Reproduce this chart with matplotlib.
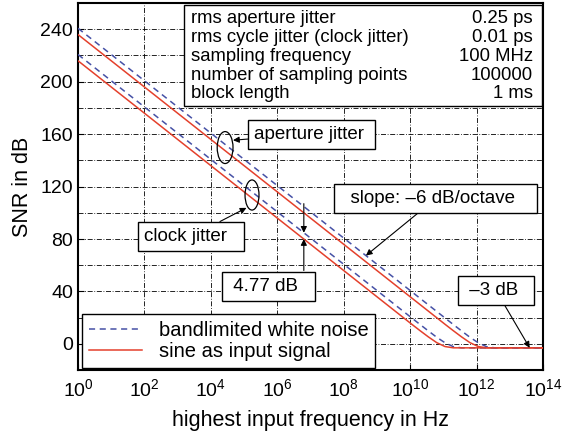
import numpy as np
import matplotlib
matplotlib.use("Agg")
import matplotlib.pyplot as plt
from matplotlib.patches import Ellipse, Rectangle

plt.rcParams['font.family'] = ['Liberation Sans', 'DejaVu Sans']
plt.rcParams['mathtext.fontset'] = 'custom'
plt.rcParams['mathtext.rm'] = 'Liberation Sans'
plt.rcParams['mathtext.it'] = 'Liberation Sans:italic'


# -----------------------------
# SNR curves (log10 of frequency, SNR in dB)
# -----------------------------
fexp_aperture = [0, 10.8, 11.05, 11.3, 11.55, 11.8, 12.05, 12.3, 12.55, 12.8, 14]
fexp_clock = [0, 9.8, 10.05, 10.3, 10.55, 10.8, 11.05, 11.3, 11.55, 11.8, 14]

snr_aperture_sine = [236.0, 20.0, 15.0, 10.1, 5.35, 1.0, -2.0, -2.98, -3.0, -3.0, -3.0]
snr_aperture_noise = [240.77, 24.77, 19.8, 14.8, 9.9, 5.1, 0.9, -2.1, -2.99, -3.0, -3.0]
snr_clock_sine = [216.0, 20.0, 15.0, 10.1, 5.35, 1.0, -2.0, -2.98, -3.0, -3.0, -3.0]
snr_clock_noise = [220.77, 24.77, 19.8, 14.8, 9.9, 5.1, 0.9, -2.1, -2.99, -3.0, -3.0]

xtick_exp = [0, 2, 4, 6, 8, 10, 12, 14]
yticks = [0, 40, 80, 120, 160, 200, 240]

info_names = ["rms aperture jitter", "rms cycle jitter (clock jitter)",
              "sampling frequency", "number of sampling points", "block length"]
info_values = ["0.25 ps", "0.01 ps", "100 MHz", "100000", "1 ms"]

red = "#e4402c"
blue = "#4651a6"


# -----------------------------
# Figure and axes
# -----------------------------
fig = plt.figure(figsize=(5.65, 4.37), dpi=100)
ax = fig.add_axes([0.138, 0.153, 0.823, 0.840])

f_ap = 10.0 ** np.array(fexp_aperture)
f_cl = 10.0 ** np.array(fexp_clock)

ax.plot(f_ap, snr_aperture_noise, color=blue, lw=1.1, ls=(0, (4, 3)), zorder=3,
        label="bandlimited white noise")
ax.plot(f_ap, snr_aperture_sine, color=red, lw=1.1, zorder=3,
        label="sine as input signal")
ax.plot(f_cl, snr_clock_noise, color=blue, lw=1.1, ls=(0, (4, 3)), zorder=3)
ax.plot(f_cl, snr_clock_sine, color=red, lw=1.1, zorder=3)

ax.set_xscale("log")
ax.set_xlim(1, 1e14)
ax.set_ylim(-20, 260)
ax.set_xticks([10.0 ** e for e in xtick_exp])
ax.set_xticklabels([r"$10^{%d}$" % e for e in xtick_exp])
ax.xaxis.set_minor_locator(plt.NullLocator())
ax.set_yticks(yticks)
ax.set_yticks(np.arange(-20, 261, 20), minor=True)
ax.tick_params(axis="both", which="major", direction="in", length=4, labelsize=14)
ax.tick_params(axis="x", which="major", pad=6)
ax.tick_params(axis="y", which="minor", length=0)
ax.grid(True, which="both", color="k", lw=0.6, ls=(0, (6, 2, 1, 2)), zorder=0)
ax.set_axisbelow(True)
for s in ax.spines.values():
    s.set_linewidth(1.5)

ax.set_xlabel("highest input frequency in Hz", fontsize=15.5, labelpad=7)
ax.set_ylabel("SNR in dB", fontsize=15.5, labelpad=5)


# -----------------------------
# Parameter table
# -----------------------------
ax.add_patch(Rectangle((0.228, 0.719), 0.770, 0.276, transform=ax.transAxes,
                       facecolor="white", edgecolor="k", lw=1.0, zorder=5))
rows_y = [0.958, 0.906, 0.855, 0.803, 0.753]
for name, val, yy in zip(info_names, info_values, rows_y):
    ax.text(0.243, yy, name, transform=ax.transAxes, fontsize=13.3,
            ha="left", va="center", zorder=6)
    ax.text(0.978, yy, val, transform=ax.transAxes, fontsize=13.3,
            ha="right", va="center", zorder=6)


# -----------------------------
# Ellipses marking the curve pairs
# -----------------------------
def to_axes(x, y):
    return ax.transAxes.inverted().transform(ax.transData.transform((x, y)))

ap_x = 4.43
ap_y = 0.5 * (np.interp(ap_x, fexp_aperture, snr_aperture_sine) +
              np.interp(ap_x, fexp_aperture, snr_aperture_noise))
cl_x = 5.24
cl_y = 0.5 * (np.interp(cl_x, fexp_clock, snr_clock_sine) +
              np.interp(cl_x, fexp_clock, snr_clock_noise))

ap_c = to_axes(10 ** ap_x, ap_y)
cl_c = to_axes(10 ** cl_x, cl_y)
ax.add_patch(Ellipse(ap_c, 0.034, 0.087, transform=ax.transAxes,
                     fill=False, edgecolor="k", lw=0.9, zorder=4))
ax.add_patch(Ellipse(cl_c, 0.030, 0.082, transform=ax.transAxes,
                     fill=False, edgecolor="k", lw=0.9, zorder=4))


# -----------------------------
# Labels with arrows
# -----------------------------
box = dict(boxstyle="square,pad=0.32", facecolor="white", edgecolor="k", lw=1.0)
arr = dict(arrowstyle="-|>", color="k", lw=0.8, mutation_scale=9, shrinkA=0, shrinkB=0)
fs = 13.5

ax.annotate("aperture jitter ", xy=(ap_c[0] + 0.017, ap_c[1] + 0.02), xycoords="axes fraction",
            xytext=(0.503, 0.643), textcoords="axes fraction", fontsize=fs,
            ha="center", va="center", bbox=box, arrowprops=arr, zorder=6)
ax.annotate("clock jitter  ", xy=(cl_c[0] - 0.012, cl_c[1] - 0.035), xycoords="axes fraction",
            xytext=(0.243, 0.364), textcoords="axes fraction", fontsize=fs,
            ha="center", va="center", bbox=box, arrowprops=arr, zorder=6)

slope_x = 8.67
ax.annotate("  slope: \u20136 dB/octave   ",
            xy=(10 ** slope_x, np.interp(slope_x, fexp_aperture, snr_aperture_noise)),
            xytext=(0.769, 0.467), textcoords="axes fraction", fontsize=fs,
            ha="center", va="center", bbox=box, arrowprops=arr, zorder=6)

ax.annotate(" \u20133 dB  ", xy=(10 ** 13.6, -3.0),
            xytext=(0.899, 0.217), textcoords="axes fraction", fontsize=fs,
            ha="center", va="center", bbox=box, arrowprops=arr, zorder=6)

# 4.77 dB gap between noise and sine curves
gap_x = 6.8
y_noise = np.interp(gap_x, fexp_clock, snr_clock_noise)
y_sine = np.interp(gap_x, fexp_clock, snr_clock_sine)
ax.annotate("", xy=(10 ** gap_x, y_noise), xytext=(10 ** gap_x, 107),
            arrowprops=arr, zorder=6)
ax.annotate("", xy=(10 ** gap_x, y_sine), xytext=(10 ** gap_x, 56),
            arrowprops=arr, zorder=6)
ax.text(0.41, 0.228, " 4.77 dB  ", transform=ax.transAxes, fontsize=fs,
        ha="center", va="center", bbox=box, zorder=6)


# -----------------------------
# Legend
# -----------------------------
leg = ax.legend(loc="lower left", bbox_to_anchor=(0.009, 0.005), borderaxespad=0,
                fontsize=14.5, handlelength=2.6, handletextpad=0.85, borderpad=0.35,
                labelspacing=0.12, fancybox=False, framealpha=1.0,
                edgecolor="k")
leg.get_frame().set_linewidth(1.0)
leg.set_zorder(7)

fig.savefig("out.png", dpi=100)
